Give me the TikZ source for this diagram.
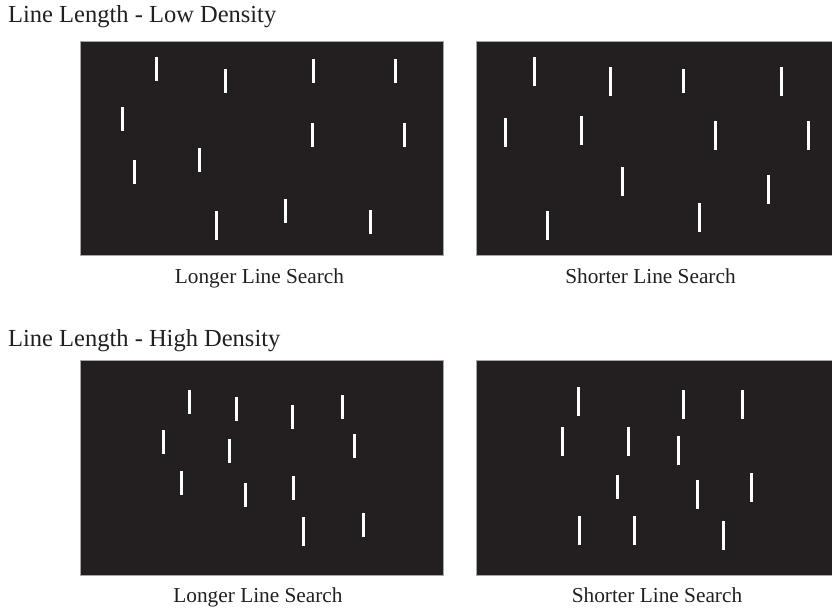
\documentclass[tikz,border=0pt]{standalone}
\usepackage{fontspec}
\setmainfont{Liberation Serif}
\definecolor{panelblack}{HTML}{231F20}
\tikzset{
  panel/.style={fill=panelblack,draw=gray!70,line width=0.6pt},
  bar/.style={fill=white},
  heading/.style={anchor=base west,inner sep=0pt,text=panelblack,font=\fontsize{24.5}{28}\selectfont},
  caption/.style={anchor=base,inner sep=0pt,text=panelblack,font=\fontsize{21.3}{25}\selectfont}
}

\begin{document}
\begin{tikzpicture}[x=1pt,y=-1pt]
  \useasboundingbox (0,0) rectangle (832,610);
  \coordinate (LA) at (80,41);   \coordinate (LB) at (443,255);
  \coordinate (SA) at (476,41);  \coordinate (SB) at (832,255);
  \coordinate (HLA) at (80,360); \coordinate (HLB) at (443,575);
  \coordinate (HSA) at (476,360);\coordinate (HSB) at (832,575);
  \draw[panel] (LA) rectangle (LB);
  \draw[panel] (SA) rectangle (SB);
  \draw[panel] (HLA) rectangle (HLB);
  \draw[panel] (HSA) rectangle (HSB);
  \foreach \bx/\by/\bh in {156.3/57/24,225.3/69/24,313.3/59/24,395.3/59/24,122.3/107/24,312.3/123/24,
    404.3/123/24,199.3/148/24,134.3/160/24,285.3/199/24,216.3/211/29,370.3/210/24}
    \fill[bar] (\bx-1.5,\by) rectangle ++(3,\bh);
  \foreach \bx/\by/\bh in {534.3/57/29,610.3/67/29,683.3/69/24,781.3/67/29,505.3/118/29,581.3/116/29,
    715.3/121/29,808.3/121/29,622.3/167/29,768.3/175/29,547.3/211/29,699.3/203/29}
    \fill[bar] (\bx-1.5,\by) rectangle ++(3,\bh);
  \foreach \bx/\by/\bh in {189.3/390/24,236.3/397/24,292.3/405/24,342.3/395/24,163.3/430/24,229.3/439/24,
    354.3/434/24,181.3/471/24,245.3/483/24,293.3/476/24,303.3/517/29,363.3/513/24}
    \fill[bar] (\bx-1.5,\by) rectangle ++(3,\bh);
  \foreach \bx/\by/\bh in {578.3/387/29,683.3/390/29,742.3/390/29,562.3/427/29,628.3/427/29,678.3/436/29,
    617.3/475/24,697.3/480/29,751.3/473/29,579.3/516/29,634.3/516/29,723.3/521/29}
    \fill[bar] (\bx-1.5,\by) rectangle ++(3,\bh);
  \node[heading] (lowtitle)  at (8,23)  {Line Length - Low Density};
  \node[heading] (hightitle) at (8,346) {Line Length - High Density};
  \node[caption] (lowlong)   at (259.5,283) {Longer Line Search};
  \node[caption] (lowshort)  at (650.5,283) {Shorter Line Search};
  \node[caption] (highlong)  at (258,602)   {Longer Line Search};
  \node[caption] (highshort) at (657,602)   {Shorter Line Search};
\end{tikzpicture}
\end{document}
